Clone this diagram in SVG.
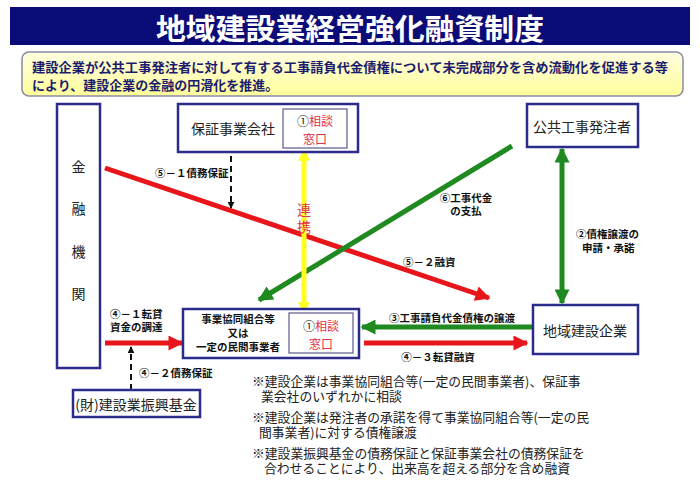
<svg xmlns="http://www.w3.org/2000/svg" width="700" height="500" viewBox="0 0 700 500">
<defs>
<linearGradient id="yel" x1="0" y1="0" x2="0" y2="1">
<stop offset="0" stop-color="#fffde0"/>
<stop offset="1" stop-color="#ffff9a"/>
</linearGradient>
<marker id="hr" viewBox="0 0 10 10" refX="9" refY="5" markerWidth="17" markerHeight="15" markerUnits="userSpaceOnUse" orient="auto-start-reverse"><path d="M0,0 L10,5 L0,10 z" fill="#e8161b"/></marker>
<marker id="hg" viewBox="0 0 10 10" refX="9" refY="5" markerWidth="17" markerHeight="15" markerUnits="userSpaceOnUse" orient="auto-start-reverse"><path d="M0,0 L10,5 L0,10 z" fill="#1f8a1f"/></marker>
<marker id="hy" viewBox="0 0 10 10" refX="9" refY="5" markerWidth="14" markerHeight="12" markerUnits="userSpaceOnUse" orient="auto-start-reverse"><path d="M0,0 L10,5 L0,10 z" fill="#ffff22"/></marker>
<marker id="hk" viewBox="0 0 10 10" refX="9" refY="5" markerWidth="7" markerHeight="7" markerUnits="userSpaceOnUse" orient="auto-start-reverse"><path d="M0,0 L10,5 L0,10 z" fill="#111"/></marker>
</defs>
<style>
text{font-family:"Noto Sans CJK JP","Noto Sans",sans-serif;}
.box{fill:#fff;stroke:#2b2b8c;stroke-width:2.5;}
.inner{fill:#fff;stroke:#5a5a8a;stroke-width:1.2;}
.node{font-size:14px;fill:#222;text-anchor:middle;dominant-baseline:central;}
.lbl{font-size:10.5px;font-weight:700;fill:#111;dominant-baseline:central;}
.win{font-size:12px;text-anchor:middle;dominant-baseline:central;}
.bk{fill:#222;}
.rd{fill:#e0304a;}
.note{font-size:12.8px;fill:#222;dominant-baseline:central;}
.sub{font-size:13px;font-weight:700;fill:#1c1c6e;dominant-baseline:central;}
</style>
<rect width="700" height="500" fill="#fff"/>
<g id="title">
<rect x="10" y="7" width="680" height="38" fill="#0c0c78"/>
<text x="350" y="27" text-anchor="middle" dominant-baseline="central" font-size="29" font-weight="700" fill="#fff" textLength="388" lengthAdjust="spacingAndGlyphs">地域建設業経営強化融資制度</text>
</g>
<g id="summary">
<rect x="22" y="52" width="661" height="44" rx="7" fill="url(#yel)" stroke="#8a8aa8" stroke-width="1.5"/>
<text class="sub"><tspan x="32" y="66" textLength="636" lengthAdjust="spacingAndGlyphs">建設企業が公共工事発注者に対して有する工事請負代金債権について未完成部分を含め流動化を促進する等</tspan><tspan x="32" y="84">により、建設企業の金融の円滑化を推進。</tspan></text>
</g>
<g id="connectors">
<line x1="105" y1="168" x2="489" y2="298" stroke="#e8161b" stroke-width="5" marker-end="url(#hr)"/>
<line x1="512" y1="146" x2="259" y2="300" stroke="#1f8a1f" stroke-width="5" marker-end="url(#hg)"/>
<line x1="304" y1="150" x2="304" y2="313" stroke="#ffff22" stroke-width="5" marker-start="url(#hy)" marker-end="url(#hy)"/>
<line x1="562" y1="149" x2="562" y2="303" stroke="#1f8a1f" stroke-width="5" marker-start="url(#hg)" marker-end="url(#hg)"/>
<line x1="532" y1="327" x2="362" y2="327" stroke="#1f8a1f" stroke-width="5" marker-end="url(#hg)"/>
<line x1="364" y1="343" x2="527" y2="343" stroke="#e8161b" stroke-width="5" marker-end="url(#hr)"/>
<line x1="105" y1="343" x2="182" y2="343" stroke="#e8161b" stroke-width="5" marker-end="url(#hr)"/>
<line x1="231" y1="156" x2="231" y2="208" stroke="#111" stroke-width="2" stroke-dasharray="6,4" marker-end="url(#hk)"/>
<line x1="131" y1="390" x2="131" y2="347" stroke="#111" stroke-width="2" stroke-dasharray="6,4" marker-end="url(#hk)"/>
<text class="lbl" x="155" y="172">⑤－１債務保証</text>
<text class="rd" font-size="14" text-anchor="middle" dominant-baseline="central"><tspan x="304" y="209">連</tspan><tspan x="304" y="226">携</tspan></text>
<text class="lbl" text-anchor="middle"><tspan x="466" y="197">⑥工事代金</tspan><tspan x="466" y="210">の支払</tspan></text>
<text class="lbl"><tspan x="576" y="233">②債権譲渡の</tspan><tspan x="582" y="247">申請・承諾</tspan></text>
<text class="lbl" x="403" y="261">⑤－２融資</text>
<text class="lbl" x="452" y="317" text-anchor="middle" font-size="11">③工事請負代金債権の譲渡</text>
<text class="lbl" x="438" y="356" text-anchor="middle">④－３転貸融資</text>
<text class="lbl"><tspan x="110" y="313">④－１転貸</tspan><tspan x="110" y="326">資金の調達</tspan></text>
<text class="lbl" x="139" y="372">④－２債務保証</text>
</g>
<g id="kinyu">
<rect class="box" x="57" y="104" width="43" height="264"/>
<text class="node" font-size="17"><tspan x="78.5" y="166">金</tspan><tspan x="78.5" y="208">融</tspan><tspan x="78.5" y="251">機</tspan><tspan x="78.5" y="293">関</tspan></text>
</g>
<g id="hosho">
<rect class="box" x="178" y="104" width="180" height="48"/>
<text class="node" x="233" y="128" font-size="14.5">保証事業会社</text>
<rect class="inner" x="283" y="109" width="64" height="39"/>
<text class="win"><tspan x="315" y="120"><tspan class="bk">①</tspan><tspan class="rd">相談</tspan></tspan><tspan class="rd" x="315" y="138">窓口</tspan></text>
</g>
<g id="hacchusha">
<rect class="box" x="527" y="104" width="111" height="43"/>
<text class="node" x="582" y="126" font-size="13">公共工事発注者</text>
</g>
<g id="kumiai">
<rect class="box" x="183" y="309" width="176" height="49"/>
<text class="lbl" text-anchor="middle"><tspan x="238" y="318">事業協同組合等</tspan><tspan x="238" y="332">又は</tspan><tspan x="238" y="346">一定の民間事業者</tspan></text>
<rect class="inner" x="289" y="313" width="64" height="40"/>
<text class="win"><tspan x="321" y="325"><tspan class="bk">①</tspan><tspan class="rd">相談</tspan></tspan><tspan class="rd" x="321" y="343">窓口</tspan></text>
</g>
<g id="chiiki">
<rect class="box" x="533" y="305" width="105" height="49"/>
<text class="node" x="585" y="330" font-size="13">地域建設企業</text>
</g>
<g id="kikin">
<rect class="box" x="73" y="390" width="127" height="27"/>
<text class="node" x="136" y="404" font-size="13">(財)建設業振興基金</text>
</g>
<g id="notes">
<text class="note"><tspan x="252" y="380">※建設企業は事業協同組合等(一定の民間事業者)、保証事</tspan><tspan x="261" y="395">業会社のいずれかに相談</tspan></text>
<text class="note"><tspan x="252" y="416">※建設企業は発注者の承諾を得て事業協同組合等(一定の民</tspan><tspan x="259" y="431">間事業者)に対する債権譲渡</tspan></text>
<text class="note"><tspan x="252" y="452">※建設業振興基金の債務保証と保証事業会社の債務保証を</tspan><tspan x="264" y="467">合わせることにより、出来高を超える部分を含め融資</tspan></text>
</g>
</svg>
